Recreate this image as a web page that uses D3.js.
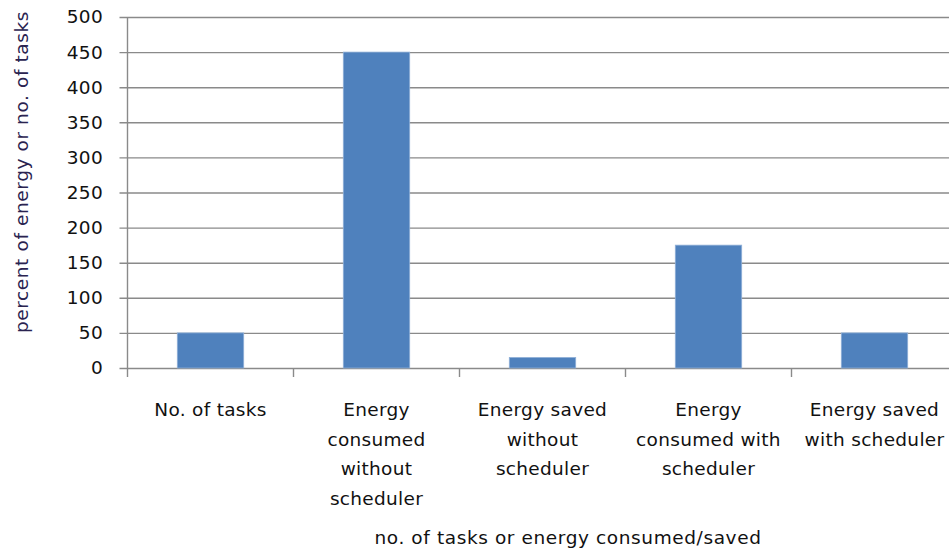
<!DOCTYPE html>
<html>
<head>
<meta charset="utf-8">
<script src="https://cdn.jsdelivr.net/npm/d3@7"></script>
<style>
  html, body { margin: 0; padding: 0; background: #fff; }
  svg { display: block; }
  text { font-family: "DejaVu Sans", Verdana, sans-serif; }
</style>
</head>
<body>
<svg id="chart" width="949" height="550"></svg>
<script>
// Categories (each one broken into its wrapped label lines) and values
const categories = [
  "No. of tasks",
  "Energy consumed without scheduler",
  "Energy saved without scheduler",
  "Energy consumed with scheduler",
  "Energy saved with scheduler"
];
const categoryLines = [
  ["No. of tasks"],
  ["Energy", "consumed", "without", "scheduler"],
  ["Energy saved", "without", "scheduler"],
  ["Energy", "consumed with", "scheduler"],
  ["Energy saved", "with scheduler"]
];
const values = [50, 450, 15, 175, 50];
const yTicks = [0, 50, 100, 150, 200, 250, 300, 350, 400, 450, 500];

const xTitle = "no. of tasks or energy consumed/saved";
const yTitle = "percent of energy or no. of tasks";

const svg = d3.select("#chart");

const plot = { left: 127.5, right: 957.5, top: 17, bottom: 368 };
const fontSize = 18.5;
const spacing = "0.3px";
const titleSpacing = "0.6px";

const x = d3.scaleBand()
  .domain(categories)
  .range([plot.left, plot.right])
  .paddingInner(0.6)
  .paddingOuter(0.3);

const y = d3.scaleLinear()
  .domain([0, 500])
  .range([plot.bottom, plot.top]);

const gridColor = "#8a8a8a";

// Horizontal gridlines with short ticks left of the value axis
const yAxis = d3.axisLeft(y)
  .tickValues(yTicks)
  .tickSize(-(plot.right - plot.left))
  .tickSizeOuter(0)
  .tickPadding(0)
  .tickFormat("");
const gy = svg.append("g")
  .attr("transform", `translate(${plot.left},0)`)
  .call(yAxis);
gy.select(".domain").remove();
gy.selectAll(".tick line")
  .attr("x1", -8)
  .attr("stroke", gridColor)
  .attr("stroke-width", 1.4);

// Value tick labels
svg.append("g")
  .selectAll("text")
  .data(yTicks)
  .join("text")
  .attr("x", 103)
  .attr("y", d => y(d))
  .attr("dy", "0.35em")
  .attr("text-anchor", "end")
  .attr("font-size", fontSize)
  .attr("letter-spacing", spacing)
  .attr("fill", "#111")
  .text(d => d);

// Vertical value axis line
svg.append("line")
  .attr("x1", plot.left).attr("x2", plot.left)
  .attr("y1", plot.top).attr("y2", plot.bottom + 9)
  .attr("stroke", gridColor)
  .attr("stroke-width", 1.4);

// Category tick marks at the band boundaries
const step = x.step();
const boundaries = d3.range(1, categories.length).map(i => plot.left + i * step);
svg.append("g")
  .selectAll("line")
  .data(boundaries)
  .join("line")
  .attr("x1", d => d).attr("x2", d => d)
  .attr("y1", plot.bottom).attr("y2", plot.bottom + 9)
  .attr("stroke", gridColor)
  .attr("stroke-width", 1.4);

// Bars
svg.append("g")
  .selectAll("rect")
  .data(values)
  .join("rect")
  .attr("x", (d, i) => x(categories[i]))
  .attr("y", d => y(d))
  .attr("width", x.bandwidth())
  .attr("height", d => y(0) - y(d))
  .attr("fill", "#4F81BD")
  .attr("stroke", "#8fb0d8")
  .attr("stroke-width", 0.8);

// Category labels, wrapped over several lines
const lineGap = 29.5;
const labels = svg.append("g")
  .selectAll("text")
  .data(categoryLines)
  .join("text")
  .attr("text-anchor", "middle")
  .attr("font-size", fontSize)
  .attr("letter-spacing", spacing)
  .attr("fill", "#111");
labels.each(function (lines, i) {
  const cx = x(categories[i]) + x.bandwidth() / 2;
  d3.select(this).selectAll("tspan")
    .data(lines)
    .join("tspan")
    .attr("x", cx)
    .attr("y", (d, j) => 410 + j * lineGap)
    .attr("dy", "0.35em")
    .text(d => d);
});

// Axis titles
svg.append("text")
  .attr("x", 568)
  .attr("y", 538)
  .attr("dy", "0.35em")
  .attr("text-anchor", "middle")
  .attr("font-size", fontSize)
  .attr("letter-spacing", titleSpacing)
  .attr("fill", "#111")
  .text(xTitle);

svg.append("text")
  .attr("transform", "translate(22,172) rotate(-90)")
  .attr("dy", "0.35em")
  .attr("text-anchor", "middle")
  .attr("font-size", fontSize)
  .attr("letter-spacing", titleSpacing)
  .attr("fill", "#2a2350")
  .text(yTitle);
</script>
</body>
</html>
